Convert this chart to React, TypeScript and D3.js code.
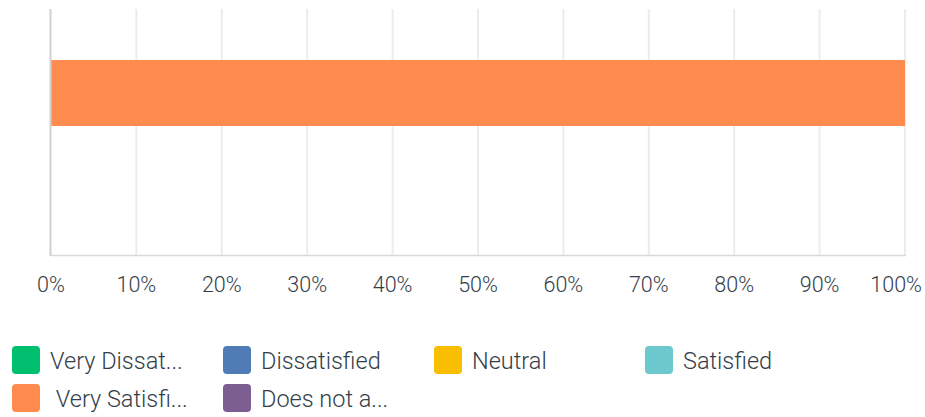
import React from "react";
import * as d3 from "d3";

const categories = ["Q1"];
const seriesNames = ["Very Dissatisfied", "Dissatisfied", "Neutral", "Satisfied", "Very Satisfied", "Does not apply"];
const legendLabels = ["Very Dissat...", "Dissatisfied", "Neutral", "Satisfied", " Very Satisfi...", "Does not a..."];
const seriesColors = ["#00bf6f", "#507cb6", "#f9be00", "#6bc8cd", "#ff8b4f", "#7d5e90"];
const seriesValues = [[0], [0], [0], [0], [100], [0]];
const tickValues = [0, 10, 20, 30, 40, 50, 60, 70, 80, 90, 100];

const W = 925;
const H = 417;
const left = 51;
const right = 905;
const top = 9;
const bottom = 256;

export default function App() {
  const x = d3.scaleLinear().domain([0, 100]).range([left, right]);
  const y = d3.scaleBand<string>().domain(categories).range([60, 126]).padding(0);

  const rows = categories.map((c, ci) => {
    const obj: any = { cat: c };
    seriesNames.forEach((s, si) => (obj[s] = seriesValues[si][ci]));
    return obj;
  });
  const stack = d3.stack<any>().keys(seriesNames)(rows);

  const font = "'Roboto', 'Noto Sans', sans-serif";
  const textColor = "#333e48";

  return (
    <svg width={W} height={H} style={{ position: "absolute", left: 0, top: 0 }}>
      {tickValues.slice(1).map((t) => (
        <line key={"g" + t} x1={x(t)} x2={x(t)} y1={top} y2={bottom} stroke="#ececec" strokeWidth={2} />
      ))}
      <line x1={left} x2={right + 1} y1={bottom - 0.5} y2={bottom - 0.5} stroke="#d9d9d9" strokeWidth={1.5} />
      {stack.map((layer, si) =>
        layer.map((d, ci) =>
          d[1] - d[0] > 0 ? (
            <rect
              key={si + "-" + ci}
              x={x(d[0])}
              y={y(categories[ci])}
              width={x(d[1]) - x(d[0])}
              height={y.bandwidth()}
              fill={seriesColors[si]}
            />
          ) : null
        )
      )}
      <line x1={left - 0.5} x2={left - 0.5} y1={top} y2={bottom} stroke="#d0d0d0" strokeWidth={2} />
      {tickValues.map((t) => {
        const last = t === 100;
        return (
          <text
            key={"t" + t}
            x={last ? 922 : x(t)}
            y={292}
            textAnchor={last ? "end" : "middle"}
            fontFamily={font}
            fontWeight={300}
            fontSize={21.5}
            fill={textColor}
          >
            {t + "%"}
          </text>
        );
      })}
      {legendLabels.map((l, i) => {
        const col = i % 4;
        const row = Math.floor(i / 4);
        const lx = 12 + col * 211;
        const ly = 346 + row * 38;
        return (
          <g key={"l" + i}>
            <rect x={lx} y={ly} width={28} height={28} rx={4} fill={seriesColors[i]} />
            <text x={lx + 38} y={ly + 23} fontFamily={font} fontWeight={300} fontSize={23.5} fill={textColor} style={{ whiteSpace: "pre" }}>
              {l}
            </text>
          </g>
        );
      })}
    </svg>
  );
}
